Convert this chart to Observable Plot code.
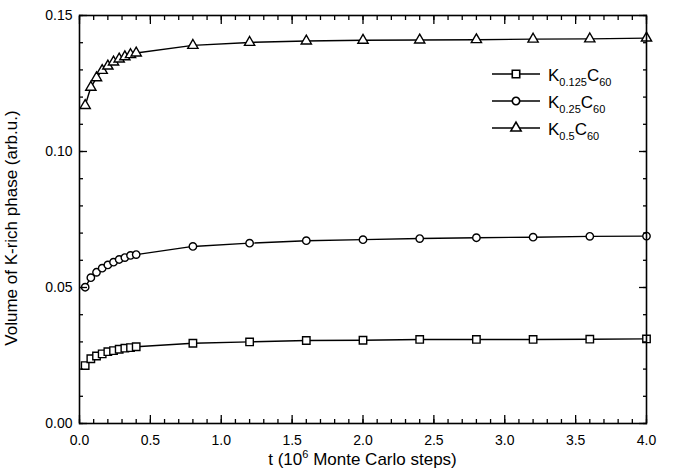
<!DOCTYPE html>
<html><head><meta charset="utf-8">
<script src="https://cdn.jsdelivr.net/npm/d3@7"></script>
<script src="https://cdn.jsdelivr.net/npm/@observablehq/plot@0.6"></script>
<style>
body{margin:0;background:#fff}
svg{font-family:"Liberation Sans",Arial,Helvetica,sans-serif}
</style>
</head><body><div id="chart"></div>
<script>
// time (10^6 Monte Carlo steps)
const t = [0.04,0.08,0.12,0.16,0.20,0.24,0.28,0.32,0.36,0.40,0.8,1.2,1.6,2.0,2.4,2.8,3.2,3.6,4.0];
// Volume of K-rich phase (arb.u.)
const k0125 = [0.0213,0.0238,0.0248,0.0256,0.0264,0.0268,0.0273,0.0277,0.0279,0.0282,0.0295,0.0300,0.0305,0.0306,0.0309,0.0309,0.0309,0.0310,0.0311];
const k025  = [0.0501,0.0536,0.0556,0.0571,0.0583,0.0593,0.0603,0.0610,0.0618,0.0621,0.0651,0.0663,0.0672,0.0676,0.0680,0.0683,0.0685,0.0688,0.0689];
const k05   = [0.1169,0.1236,0.1271,0.1298,0.1314,0.1329,0.1340,0.1348,0.1356,0.1362,0.1390,0.1401,0.1406,0.1409,0.1410,0.1411,0.1413,0.1414,0.1417];
const seriesKeys = ["K0.125C60","K0.25C60","K0.5C60"];
const seriesSub = ["0.125","0.25","0.5"];
const seriesSymbols = ["square","circle","triangle"];
const xTicks = [0,0.5,1.0,1.5,2.0,2.5,3.0,3.5,4.0];
const xMinor = d3.range(0,41).map(i=>i/10);
const yTicks = [0,0.05,0.10,0.15];
const yMinor = d3.range(0,16).map(i=>i/100);

const allSeries = [k0125,k025,k05];
const rows = [];
allSeries.forEach((vals,si)=>vals.forEach((v,i)=>rows.push({t:t[i], v, s:seriesKeys[si]})));

const rSizes = {"K0.125C60":4.2,"K0.25C60":3.7,"K0.5C60":3.8};

const W=673,H=469,mL=79,mR=27,mT=15,mB=46;
const blank = ()=>"";
const tickOpts = {tickFormat: blank, label: null, stroke: "black", strokeWidth: 1.3};

const plot = Plot.plot({
  width: W, height: H,
  marginLeft: mL, marginRight: mR, marginTop: mT, marginBottom: mB,
  style: {background: "white", color: "black", fontFamily: '"Liberation Sans",Arial,sans-serif'},
  x: {domain: [0,4], label: null},
  y: {domain: [0,0.15], label: null},
  symbol: {domain: seriesKeys, range: seriesSymbols},
  marks: [
    Plot.line(rows, {x:"t", y:"v", z:"s", stroke:"black", strokeWidth:1.4}),
    ...seriesKeys.map(k => Plot.dot(rows.filter(d=>d.s===k), {x:"t", y:"v", symbol:"s", r:rSizes[k], fill:"white", stroke:"black", strokeWidth:1.4})),
    // tick labels
    Plot.axisX(xTicks, {anchor:"bottom", tickSize:0, tickPadding:12, tickFormat:d3.format(".1f"), label:null, fontSize:14}),
    Plot.axisY(yTicks, {anchor:"left", tickSize:0, tickPadding:7, tickFormat:d3.format(".2f"), label:null, fontSize:14}),
    // inward ticks on all four sides
    Plot.axisX(xTicks, {anchor:"bottom", tickSize:-8, ...tickOpts}),
    Plot.axisX(xMinor, {anchor:"bottom", tickSize:-4, ...tickOpts}),
    Plot.axisX(xTicks, {anchor:"top", tickSize:-8, ...tickOpts}),
    Plot.axisX(xMinor, {anchor:"top", tickSize:-4, ...tickOpts}),
    Plot.axisY(yTicks, {anchor:"left", tickSize:-8, ...tickOpts}),
    Plot.axisY(yMinor, {anchor:"left", tickSize:-4, ...tickOpts}),
    Plot.axisY(yTicks, {anchor:"right", tickSize:-8, ...tickOpts}),
    Plot.axisY(yMinor, {anchor:"right", tickSize:-4, ...tickOpts}),
    Plot.frame({stroke:"black", strokeWidth:1.6})
  ]
});
document.getElementById("chart").appendChild(plot);

const svg = d3.select(plot);
const font = '"Liberation Sans",Arial,sans-serif';

// X-axis title
const xt = svg.append("text").attr("x", (mL + W - mR)/2).attr("y", 465)
  .attr("text-anchor","middle").attr("font-size",17).attr("font-family",font).attr("fill","black");
xt.append("tspan").text("t (10");
xt.append("tspan").attr("font-size",11).attr("dy",-7).text("6");
xt.append("tspan").attr("dy",7).text(" Monte Carlo steps)");

// Y-axis title
svg.append("text").attr("transform","translate(17,228) rotate(-90)")
  .attr("text-anchor","middle").attr("font-size",17).attr("font-family",font).attr("fill","black")
  .text("Volume of K-rich phase (arb.u.)");

// Legend
const legY = [74,101,128];
const symMap = {square:d3.symbolSquare, circle:d3.symbolCircle, triangle:d3.symbolTriangle};
seriesKeys.forEach((k,i)=>{
  const g = svg.append("g").attr("transform",`translate(0,${legY[i]})`);
  g.append("line").attr("x1",492).attr("x2",540).attr("y1",0).attr("y2",0).attr("stroke","black").attr("stroke-width",1.4);
  const r = rSizes[k];
  g.append("path").attr("transform","translate(516,0)")
    .attr("d", d3.symbol(symMap[seriesSymbols[i]], r*r*Math.PI)())
    .attr("fill","white").attr("stroke","black").attr("stroke-width",1.6);
  const tx = g.append("text").attr("x",548).attr("y",7).attr("text-anchor","start")
    .attr("font-size",17).attr("font-family",font).attr("fill","black");
  tx.append("tspan").text("K");
  tx.append("tspan").attr("font-size",11).attr("dy",5).text(seriesSub[i]);
  tx.append("tspan").attr("dy",-5).text("C");
  tx.append("tspan").attr("font-size",11).attr("dy",5).text("60");
});
</script>
</body></html>
